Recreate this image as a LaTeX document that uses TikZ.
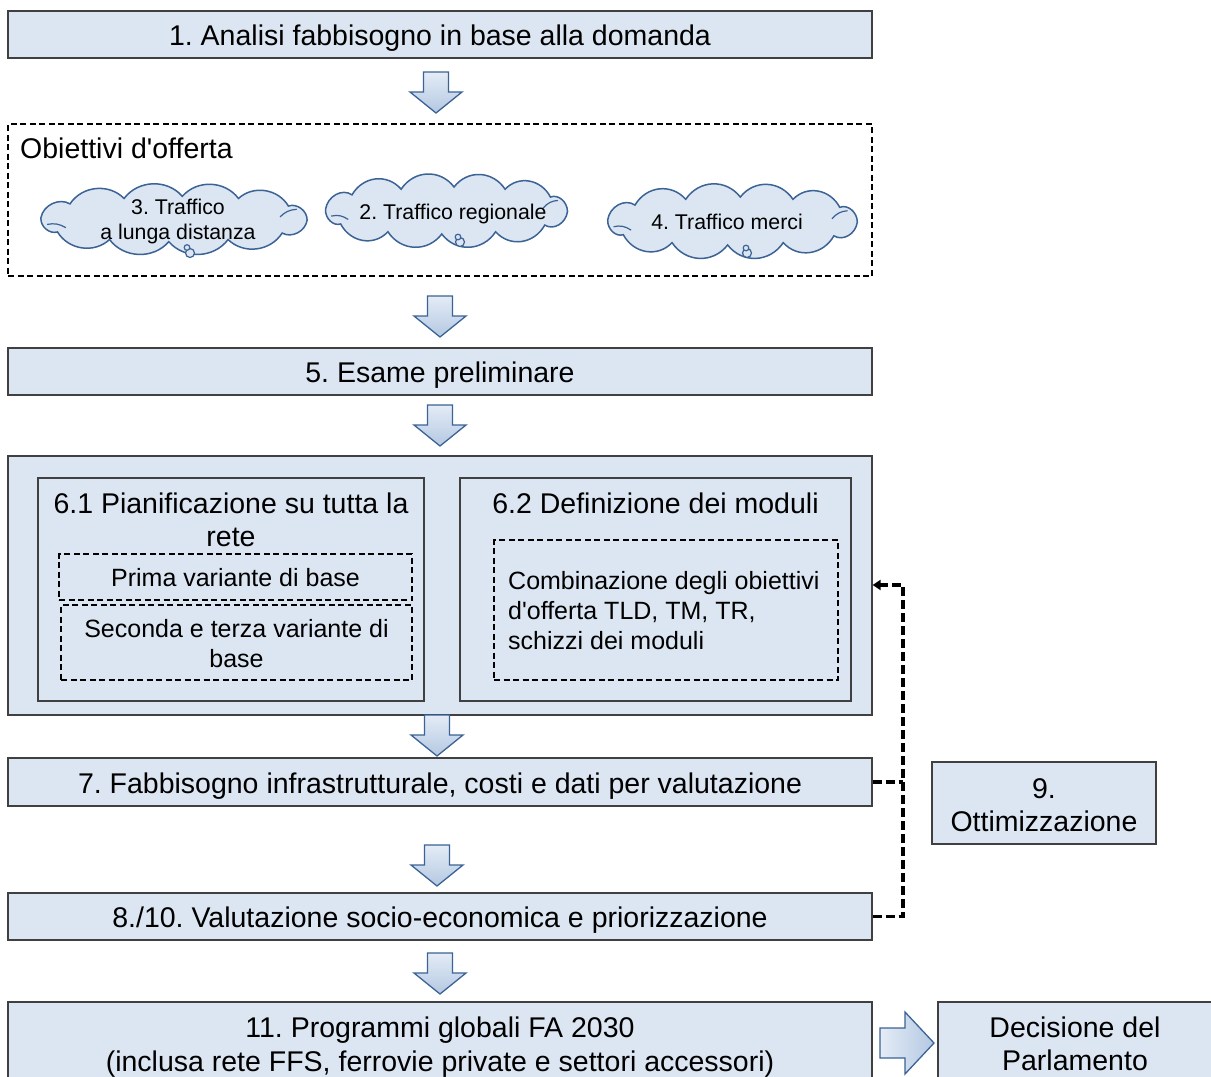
\documentclass[tikz,border=0pt]{standalone}
\usepackage{fontspec}
\setmainfont{Liberation Sans}[Ligatures=TeXOff]
\usetikzlibrary{arrows.meta,calc}
\definecolor{boxblue}{HTML}{DCE6F2}
\definecolor{edgegray}{HTML}{404040}
\definecolor{cloudedge}{HTML}{3B6395}
\definecolor{arrtop}{HTML}{E4ECF6}
\definecolor{arrbot}{HTML}{B4C8E2}
\newcommand\fsA{\fontsize{28.5}{33.5}\selectfont}
\newcommand\fsB{\fontsize{25}{30}\selectfont}
\newcommand\fsC{\fontsize{21.3}{25}\selectfont}
\frenchspacing
\tikzset{
  box/.style={draw=edgegray, fill=boxblue, line width=1.2pt, inner sep=0pt},
  txt/.style={inner sep=0pt, align=center, font=\fsA},
  dbox/.style={draw=black, dash pattern=on 6pt off 3.5pt, line width=1.2pt, inner sep=0pt, align=center},
  cloudsty/.style={draw=cloudedge, fill=boxblue, line width=1.5pt},
  tail/.style={draw=cloudedge, fill=boxblue, line width=1.2pt},
  fb/.style={draw=black, line width=3.2pt, dash pattern=on 9pt off 4pt},
  arrsty/.style={draw=cloudedge, line width=1.3pt, line join=miter},
  cloudpic/.pic={\path[cloudsty] (128,1) to[bend right=55] (110,-12) to[bend right=50] (62,-19)
      to[bend right=50] (8,-21) to[bend right=50] (-48,-19) to[bend right=50] (-100,-14)
      to[bend right=55] (-128,-1) to[bend right=55] (-112,12) to[bend right=50] (-62,19)
      to[bend right=50] (-5,21) to[bend right=50] (52,19) to[bend right=50] (104,13)
      to[bend right=55] cycle;
    \draw[cloudedge, line width=1.2pt] (-122,5) to[bend left=20] (-104,8);
    \draw[cloudedge, line width=1.2pt] (102,-2) to[bend left=20] (118,-9);},
  downarr/.pic={\path[arrsty, top color=arrtop, bottom color=arrbot] (-12.5,0) -- (12.5,0) -- (12.5,20) -- (26,20) -- (0,41) -- (-26,20) -- (-12.5,20) -- cycle;},
  rightarr/.pic={\path[arrsty, left color=arrtop, right color=arrbot] (0,-15) -- (25,-15) -- (25,-31) -- (54,0) -- (25,31) -- (25,15) -- (0,15) -- cycle;}
}
\begin{document}
\begin{tikzpicture}[x=1pt,y=-1pt]
\fill[white] (0,0) rectangle (1211,1077);
\useasboundingbox (0,0) rectangle (1211,1077);

% 1
\node[box, minimum width=864pt, minimum height=47pt] (b1) at (440,34.5) {};
\node[txt] (b1t) at ([yshift=-4pt]b1.center) {1. Analisi fabbisogno in base alla domanda};
\pic (a1) at (436,72) {downarr};

% objectives
\node[dbox, minimum width=864pt, minimum height=152pt] (obj) at (440,200) {};
\node[anchor=west, font=\fsA, inner sep=0pt] (objt) at (20,148) {Obiettivi d'offerta};

\pic[xscale=1.04, yscale=1.08] (c3) at (174,219) {cloudpic};
\draw[tail] (190,253) circle[radius=4.5];
\draw[tail] (187,247.5) circle[radius=2.8];
\node[txt, font=\fsC] (c3t) at (178,221) {3. Traffico\\a lunga distanza};

\pic[xscale=0.945, yscale=1.12] (c2) at (446.5,210.5) {cloudpic};
\draw[tail] (460,242) circle[radius=4.5];
\draw[tail] (458,237) circle[radius=2.8];
\node[txt, font=\fsC] (c2t) at (453,214) {2. Traffico regionale};

\pic[xscale=0.975, yscale=1.14] (c4) at (732.5,221) {cloudpic};
\draw[tail] (747,253) circle[radius=4.5];
\draw[tail] (746,248) circle[radius=2.8];
\node[txt, font=\fsC] (c4t) at (727,222) {4. Traffico merci};

\pic (a2) at (440,296) {downarr};

% 5
\node[box, minimum width=864pt, minimum height=47pt] (b5) at (440,371.5) {};
\node[txt] (b5t) at ([yshift=-4pt]b5.center) {5. Esame preliminare};
\pic (a3) at (440,405) {downarr};

% 6
\node[box, minimum width=864pt, minimum height=259pt] (b6) at (440,585.5) {};
\node[box, minimum width=386pt, minimum height=223pt] (b61) at (231,589.5) {};
\node[txt] (t61) at (231,520) {6.1 Pianificazione su tutta la\\rete};
\node[dbox, minimum width=353pt, minimum height=46pt] (v1) at (235.5,577) {};
\node[txt, font=\fsB] (v1t) at ([yshift=-1pt]v1.center) {Prima variante di base};
\node[dbox, minimum width=351pt, minimum height=75pt] (v2) at (236.5,642.5) {};
\node[txt, font=\fsB] (v2t) at ([yshift=-1.5pt]v2.center) {Seconda e terza variante di\\base};

\node[box, minimum width=391pt, minimum height=223pt] (b62) at (655.5,589.5) {};
\node[txt] (t62) at (655.5,503) {6.2 Definizione dei moduli};
\node[dbox, minimum width=344pt, minimum height=140pt] (m) at (666,610) {};
\node[anchor=west, font=\fsB, align=left, inner sep=0pt] (mt) at (508,611) {Combinazione degli obiettivi\\d'offerta TLD, TM, TR,\\schizzi dei moduli};

\pic (a4) at (437,715) {downarr};

% 7
\node[box, minimum width=864pt, minimum height=48pt] (b7) at (440,782) {};
\node[txt] (b7t) at ([yshift=-4pt]b7.center) {7. Fabbisogno infrastrutturale, costi e dati per valutazione};
% 9
\node[box, minimum width=224pt, minimum height=82pt] (b9) at (1044,803) {};
\node[txt] (b9t) at ([yshift=-2pt]b9.center) {9.\\Ottimizzazione};

\pic (a5) at (437,845) {downarr};

% 8/10
\node[box, minimum width=864pt, minimum height=47pt] (b8) at (440,916.5) {};
\node[txt] (b8t) at ([yshift=-4pt]b8.center) {8./10. Valutazione socio-economica e priorizzazione};

\pic (a6) at (440,953) {downarr};

% 11
\node[box, minimum width=864pt, minimum height=84pt] (b11) at (440,1044) {};
\node[txt] (b11t) at ([yshift=-3pt]b11.center) {11. Programmi globali FA 2030\\(inclusa rete FFS, ferrovie private e settori accessori)};
\pic (a7) at (880,1043) {rightarr};
\node[box, minimum width=274pt, minimum height=84pt] (dp) at (1075,1044) {};
\node[txt] (dpt) at (dp.center) {Decisione del\\Parlamento};

% feedback
\coordinate (fbx) at (903,585);
\draw[fb] (b7.east) -- (b7.east -| fbx);
\draw[fb, -{Triangle[length=8pt,width=10pt]}] (b8.east) -| (fbx) -- (b6.east |- fbx);
\end{tikzpicture}
\end{document}
